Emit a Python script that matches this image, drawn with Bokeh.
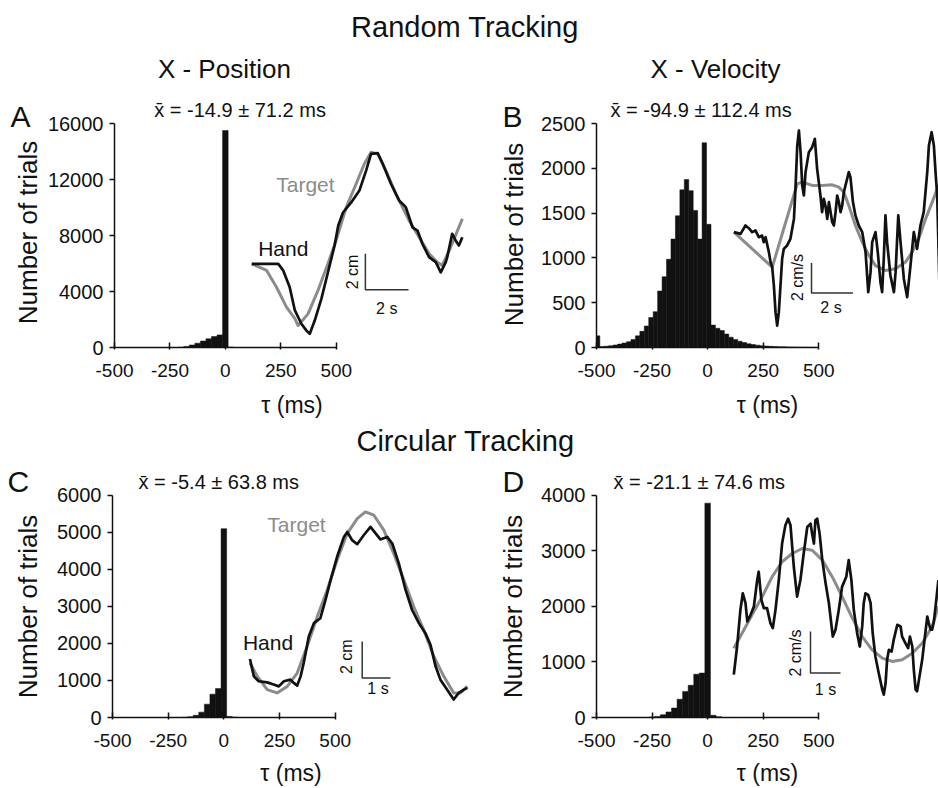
import math
from bokeh.plotting import figure
from bokeh.models import Range1d, LinearAxis, FixedTicker, Label
from bokeh.layouts import column, row
from bokeh.embed import file_html
from bokeh.resources import INLINE

FONT = "Liberation Sans"
INK = "#111111"
GRAY = "#8c8c8c"

# ---------------- data ----------------
tau_ticks = [-500, -250, 0, 250, 500]

# A: random tracking, x-position (25 ms bins)
histA_tau = [-200, -175, -150, -125, -100, -75, -50, -25, 0, 25]
histA_n = [20, 80, 180, 310, 460, 620, 780, 900, 15500, 30]
histA_ticks = [0, 4000, 8000, 12000, 16000]

# B: random tracking, x-velocity (20 ms bins)
histB_tau = [-495, -475, -455, -435, -415, -395, -375, -355, -335, -315,
             -295, -275, -255, -235, -215, -195, -175, -155, -135, -115,
             -95, -75, -55, -35, -15, 5, 25, 45, 65, 85,
             105, 125, 145, 165, 185, 205, 225, 245, 265, 285,
             305, 325, 345, 365, 385, 405, 425, 445, 465, 485]
histB_n = [130, 10, 15, 20, 28, 38, 50, 65, 90, 130,
           180, 240, 335, 400, 630, 790, 985, 1210, 1470, 1760,
           1875, 1750, 1530, 1210, 2285, 1375, 250, 215, 190, 150,
           115, 90, 70, 55, 42, 33, 26, 20, 16, 13,
           10, 8, 7, 6, 5, 4, 3, 3, 2, 2]
histB_ticks = [0, 500, 1000, 1500, 2000, 2500]

# C: circular tracking, position (25 ms bins)
histC_tau = [-175, -150, -125, -100, -75, -50, -25, 0, 25, 50]
histC_n = [5, 20, 60, 145, 360, 630, 780, 5100, 30, 10]
histC_ticks = [0, 1000, 2000, 3000, 4000, 5000, 6000]

# D: circular tracking, velocity (25 ms bins)
histD_tau = [-250, -225, -200, -175, -150, -125, -100, -75, -50, -25, 0, 25, 50]
histD_n = [10, 20, 50, 100, 170, 330, 470, 580, 780, 800, 3860, 40, 15]
histD_ticks = [0, 1000, 2000, 3000, 4000]

mean_A = "x\u0304 = -14.9 \u00b1 71.2 ms"
mean_B = "x\u0304 = -94.9 \u00b1 112.4 ms"
mean_C = "x\u0304 = -5.4 \u00b1 63.8 ms"
mean_D = "x\u0304 = -21.1 \u00b1 74.6 ms"

# inset traces (time in s, position in cm / velocity in cm/s)
handA_t = [0.0, 1.0, 1.23, 1.46, 1.76, 2.0, 2.30, 2.53, 2.69, 2.92,
           3.23, 3.53, 3.84, 4.01, 4.23, 4.61, 4.99, 5.30, 5.53, 5.84,
           6.07, 6.45, 6.83, 7.14, 7.45, 7.68, 7.91, 8.22, 8.53, 8.76,
           8.99, 9.06, 9.29, 9.45, 9.60, 9.76]
handA_cm = [4.26, 4.26, 4.26, 3.89, 2.96, 1.67, 0.93, 0.56, 0.37, 1.11,
            2.33, 3.78, 5.28, 6.39, 7.11, 7.67, 8.33, 9.44, 10.37, 10.41,
            9.82, 8.71, 7.78, 7.41, 6.29, 6.11, 5.37, 4.63, 4.35, 3.79,
            4.35, 4.63, 5.93, 5.56, 5.28, 5.74]
targA_t = [0.0, 0.69, 1.15, 1.61, 2.0, 2.15, 2.61, 3.07, 3.53, 3.92,
           4.38, 4.84, 5.22, 5.53, 5.84, 6.22, 6.68, 7.29, 7.76, 8.22,
           8.60, 8.83, 9.22, 9.76]
targA_cm = [4.26, 3.89, 2.96, 1.85, 1.21, 0.83, 1.48, 2.78, 4.26, 5.6,
            7.4, 8.71, 9.82, 10.46, 10.37, 9.44, 8.15, 6.67, 5.74, 4.82,
            4.35, 4.17, 5.18, 6.76]

handB_t = [0.02, 0.34, 0.58, 0.74, 0.90, 1.06, 1.22, 1.38, 1.46, 1.55,
           1.71, 1.79, 1.87, 1.95, 2.03, 2.11, 2.19, 2.27, 2.35, 2.43,
           2.59, 2.75, 2.92, 3.0, 3.08, 3.16, 3.24, 3.32, 3.40, 3.48,
           3.64, 3.80, 3.93, 4.04, 4.20, 4.28, 4.36, 4.44, 4.53, 4.61,
           4.69, 4.77, 4.85, 4.93, 5.01, 5.09, 5.17, 5.25, 5.33, 5.41,
           5.57, 5.65, 5.77, 5.89, 6.05, 6.22, 6.38, 6.51, 6.62, 6.70,
           6.86, 6.97, 7.10, 7.18, 7.26, 7.34, 7.42, 7.58, 7.75, 7.83,
           7.96, 8.07, 8.23, 8.39, 8.55, 8.71, 8.87, 9.03, 9.19, 9.36,
           9.44, 9.57, 9.68, 9.76, 9.84, 9.95]
handB_v = [4.56, 4.44, 5.0, 4.82, 4.56, 4.67, 4.22, 4.33, 3.89, 4.22,
           3.22, 2.56, 2.22, 1.0, -0.78, -1.67, -0.78, 1.0, 2.78, 3.44,
           3.67, 4.11, 5.44, 7.67, 10.33, 11.33, 9.89, 7.67, 7.0, 8.56,
           9.89, 10.22, 10.78, 8.78, 7.0, 5.89, 6.78, 6.33, 5.44, 6.56,
           5.89, 5.22, 5.0, 5.89, 7.0, 6.56, 5.89, 6.33, 7.22, 7.67,
           8.56, 8.22, 6.56, 5.67, 5.0, 4.56, 3.22, 0.56, 1.89, 3.89,
           4.56, 3.22, 1.22, 0.56, 2.78, 5.67, 3.89, 1.67, 0.56, 1.89,
           5.67, 3.89, 1.44, 0.22, 2.33, 4.56, 3.44, 5.0, 5.89, 8.56,
           10.33, 11.22, 10.33, 8.56, 7.0, 1.0]
targB_t = [0.02, 1.87, 3.08, 3.32, 3.80, 4.28, 4.77, 5.09, 5.33, 5.57,
           5.89, 6.22, 6.54, 6.86, 7.34, 7.83, 8.31, 8.63, 8.95, 9.28,
           9.60, 9.90]
targB_v = [4.56, 2.22, 7.78, 7.89, 7.67, 7.67, 7.71, 7.56, 7.22, 6.33,
           5.0, 3.89, 3.0, 2.33, 2.0, 2.11, 2.56, 3.22, 4.11, 5.44,
           6.56, 7.67]

handC_t = [0.04, 0.18, 0.35, 0.65, 0.88, 1.06, 1.24, 1.47, 1.59, 1.71,
           1.83, 1.94, 2.12, 2.30, 2.53, 2.71, 2.89, 3.12, 3.36, 3.48,
           3.65, 3.83, 4.06, 4.30, 4.48, 4.65, 4.89, 5.07, 5.30, 5.54,
           5.77, 6.01, 6.24, 6.42, 6.60, 6.77, 7.01, 7.24, 7.42, 7.60,
           7.72]
handC_cm = [2.77, 1.82, 1.55, 1.49, 1.37, 1.27, 1.55, 1.64, 1.46, 1.31,
            1.82, 2.55, 4.01, 4.74, 5.01, 6.01, 7.10, 8.38, 9.47, 9.74,
            9.29, 9.07, 9.56, 10.02, 9.66, 9.33, 9.47, 9.11, 8.02, 6.56,
            5.46, 4.74, 4.19, 3.55, 2.37, 1.64, 1.09, 0.55, 0.91, 1.09,
            1.19]
targC_t = [0.04, 0.30, 0.65, 1.0, 1.36, 1.71, 2.06, 2.42, 2.77, 3.12,
           3.48, 3.83, 4.12, 4.42, 4.77, 5.12, 5.48, 5.83, 6.18, 6.54,
           6.89, 7.24, 7.48, 7.72]
targC_cm = [2.55, 1.82, 1.09, 0.91, 1.27, 2.0, 3.46, 5.10, 6.56, 8.20,
            9.66, 10.47, 10.84, 10.66, 9.84, 8.56, 7.10, 5.64, 4.37, 2.91,
            1.82, 0.91, 0.91, 1.27]

handD_t = [0.01, 0.12, 0.23, 0.31, 0.40, 0.46, 0.57, 0.68, 0.79, 0.84,
           0.93, 1.01, 1.12, 1.23, 1.31, 1.40, 1.51, 1.62, 1.73, 1.82,
           1.90, 2.01, 2.12, 2.23, 2.34, 2.46, 2.57, 2.62, 2.68, 2.73,
           2.79, 2.87, 2.96, 3.07, 3.18, 3.31, 3.40, 3.51, 3.62, 3.76,
           3.84, 3.93, 4.01, 4.12, 4.21, 4.29, 4.34, 4.40, 4.49, 4.57,
           4.64, 4.73, 4.84, 4.96, 5.01, 5.07, 5.12, 5.18, 5.27, 5.34,
           5.46, 5.57, 5.62, 5.73, 5.82, 5.88, 5.96, 6.01, 6.07, 6.12,
           6.20, 6.29, 6.38, 6.46, 6.51, 6.57, 6.62, 6.68, 6.76, 6.83]
handD_v = [1.20, 2.56, 4.33, 5.13, 4.65, 3.77, 4.09, 4.49, 5.77, 6.17,
           4.81, 4.41, 4.41, 3.69, 3.45, 4.33, 5.77, 7.53, 8.41, 8.73,
           8.41, 6.41, 4.97, 5.77, 7.05, 8.33, 8.49, 8.01, 7.53, 8.65,
           8.73, 8.01, 6.73, 5.61, 4.65, 3.04, 3.37, 4.33, 5.45, 5.93,
           6.73, 5.77, 4.33, 3.21, 2.56, 3.53, 4.65, 5.13, 5.05, 4.65,
           3.21, 2.08, 1.28, 0.48, 0.24, 0.80, 1.92, 2.40, 2.32, 2.88,
           3.61, 3.53, 3.04, 2.72, 2.48, 3.04, 2.56, 1.44, 0.48, 0.40,
           1.12, 1.92, 3.04, 4.01, 3.69, 3.37, 3.37, 3.77, 4.81, 5.77]
targD_t = [0.01, 0.29, 0.62, 0.96, 1.29, 1.62, 1.96, 2.29, 2.62, 2.96,
           3.29, 3.62, 3.96, 4.29, 4.62, 4.96, 5.29, 5.62, 5.96, 6.29,
           6.62, 6.83]
targD_v = [2.48, 3.21, 4.09, 4.97, 5.93, 6.65, 7.05, 7.29, 7.21, 6.73,
           5.93, 4.97, 3.93, 3.04, 2.40, 2.00, 1.84, 1.92, 2.24, 2.72,
           3.53, 4.49]

# scale bar lengths (s, cm or cm/s)
barA = (2, 2)
barB = (2, 2)
barC = (1, 2)
barD = (1, 2)


# ---------------- helpers ----------------
def add_text(p, x, y, text, size, color=INK, align="center", baseline="middle",
             angle=0.0, xr=None, yr=None):
    kw = {}
    if xr:
        kw["x_range_name"] = xr
    if yr:
        kw["y_range_name"] = yr
    p.add_layout(Label(x=x, y=y, text=text, text_font=FONT, text_font_size=f"{size}px",
                       text_color=color, text_align=align, text_baseline=baseline,
                       angle=angle, **kw))


def strip_fig(ox, oy, w, h, bottom, texts):
    # frame spans page y from oy to oy + h - bottom (aligned with neighbouring panels)
    p = figure(width=w, height=h, output_backend="svg", toolbar_location=None,
               x_axis_type=None, y_axis_type=None,
               x_range=Range1d(ox, ox + w), y_range=Range1d(oy + h - bottom, oy),
               min_border_left=0, min_border_right=0, min_border_top=0,
               min_border_bottom=bottom)
    p.outline_line_color = None
    p.background_fill_color = "white"
    p.border_fill_color = "white"
    for t in texts:
        txt, x, y, size = t[:4]
        opts = t[4] if len(t) > 4 else {}
        add_text(p, x, y, txt, size, **opts)
    return p


def make_panel(spec):
    ox, oy, w, h = spec["fig"]
    fl, fr, ft, fb = spec["frame"]  # axis left, frame right, y-max tick, x-axis (page px)
    ymax = spec["yticks"][-1]
    ytop = ymax * (fb - oy) / (fb - ft)
    p = figure(width=w, height=h, output_backend="svg", toolbar_location=None,
               x_axis_type=None, y_axis_type=None,
               x_range=Range1d(-500, -500 + 1000.0 * (fr - fl) / spec["axpx"]),
               y_range=Range1d(0, ytop),
               min_border_left=fl - ox, min_border_right=ox + w - fr,
               min_border_top=0, min_border_bottom=oy + h - fb)
    p.outline_line_color = None
    p.background_fill_color = "white"
    p.border_fill_color = "white"
    x0, sx, y0, sy = spec["inset"]
    p.extra_x_ranges = {"t": Range1d((fl - x0) / sx, (fr - x0) / sx),
                        "px": Range1d(fl, fr)}
    p.extra_y_ranges = {"v": Range1d((y0 - fb) / sy, (y0 - oy) / sy),
                        "py": Range1d(fb, oy)}

    xa = LinearAxis(bounds=(-500, 500), ticker=FixedTicker(ticks=tau_ticks),
                    axis_label="\u03c4 (ms)",
                    major_label_overrides={v: str(v) for v in tau_ticks})
    ya = LinearAxis(bounds=(0, ymax), ticker=FixedTicker(ticks=spec["yticks"]),
                    major_label_overrides={v: str(v) for v in spec["yticks"]})
    for ax in (xa, ya):
        ax.axis_line_width = 1.5
        ax.axis_line_color = INK
        ax.major_tick_line_width = 1.5
        ax.major_tick_line_color = INK
        ax.minor_tick_line_color = None
        ax.major_label_text_font = FONT
        ax.major_label_text_color = INK
        ax.axis_label_text_font = FONT
        ax.axis_label_text_font_style = "normal"
        ax.axis_label_text_color = INK
    xa.major_tick_in = 5
    xa.major_tick_out = 2
    xa.major_label_text_font_size = "19px"
    xa.major_label_standoff = spec["xst"]
    xa.axis_label_text_font_size = "23px"
    xa.axis_label_standoff = spec["xals"]
    ya.major_tick_in = 0
    ya.major_tick_out = 5
    ya.major_label_text_font_size = "20px"
    ya.major_label_standoff = 6
    p.add_layout(xa, "below")
    p.add_layout(ya, "left")

    p.vbar(x=spec["tau"], top=spec["n"], width=spec["bw"], fill_color=INK,
           line_color=INK, line_width=0.5)

    p.line(spec["targ"][0], spec["targ"][1], x_range_name="t", y_range_name="v",
           line_color=GRAY, line_width=3.0, line_join="round")
    p.line(spec["hand"][0], spec["hand"][1], x_range_name="t", y_range_name="v",
           line_color=INK, line_width=2.7, line_join="round")

    bx, by = spec["barpos"]
    lx, ly = spec["barlen"]
    tb = (bx - x0) / sx
    vb = (y0 - by) / sy
    p.line([tb, tb, tb + lx], [vb + ly, vb, vb], x_range_name="t", y_range_name="v",
           line_color="#333333", line_width=1.5)

    for t in spec["texts"]:
        txt, x, y, size = t[:4]
        opts = dict(t[4]) if len(t) > 4 else {}
        opts.update(xr="px", yr="py")
        add_text(p, x, y, txt, size, **opts)
    return p


ROT = {"angle": math.pi / 2}
LEFT = {"align": "left"}

# strips holding the panel letter and the y-axis title
sA = strip_fig(0, 45, 44, 375, 73, [("A", 10, 116, 30, LEFT),
                                    ("Number of trials", 27.5, 232, 26, ROT)])
sB = strip_fig(469, 45, 66, 375, 73, [("B", 502, 116, 30, LEFT),
                                      ("Number of trials", 513, 234, 26, ROT)])
sC = strip_fig(0, 460, 44, 328, 70, [("C", 7, 481, 30, LEFT),
                                     ("Number of trials", 27.5, 606.5, 26, ROT)])
sD = strip_fig(469, 460, 66, 328, 70, [("D", 502, 481, 30, LEFT),
                                       ("Number of trials", 512.5, 606.5, 26, ROT)])

pA = make_panel(dict(
    fig=(44, 45, 425, 375), frame=(112, 469, 123, 347), axpx=223.0,
    yticks=histA_ticks, tau=histA_tau, n=histA_n, bw=25, xst=14, xals=12,
    inset=(250.0, 21.7, 340.0, 18.0),
    hand=(handA_t, handA_cm), targ=(targA_t, targA_cm),
    barpos=(364.3, 289.3), barlen=barA,
    texts=[("X - Position", 222.5, 68, 26),
           (mean_A, 152, 109, 20, LEFT),
           ("Target", 304, 184, 21, {"color": GRAY}),
           ("Hand", 281.7, 247.5, 21),
           ("2 cm", 351.7, 271.5, 16, ROT),
           ("2 s", 385.8, 307.5, 16)]))

pB = make_panel(dict(
    fig=(535, 45, 403, 375), frame=(596, 938, 123, 347), axpx=222.3,
    yticks=histB_ticks, tau=histB_tau, n=histB_n, bw=20, xst=14, xals=12,
    inset=(733.0, 20.7, 300.0, 15.0),
    hand=(handB_t, handB_v), targ=(targB_t, targB_v),
    barpos=(811.0, 292.5), barlen=barB,
    texts=[("X - Velocity", 715, 68, 26),
           (mean_B, 610, 109, 20, LEFT),
           ("2 cm/s", 796.7, 277, 16, ROT),
           ("2 s", 830.5, 306.7, 16)]))

pC = make_panel(dict(
    fig=(44, 460, 425, 328), frame=(112, 469, 495, 718), axpx=222.7,
    yticks=histC_ticks, tau=histC_tau, n=histC_n, bw=25, xst=14, xals=10,
    inset=(248.3, 28.3, 710.0, 18.3),
    hand=(handC_t, handC_cm), targ=(targC_t, targC_cm),
    barpos=(361.7, 678.3), barlen=barC,
    texts=[(mean_C, 138, 482, 20, LEFT),
           ("Target", 296, 524.5, 21, {"color": GRAY}),
           ("Hand", 267.5, 642.5, 21),
           ("2 cm", 346, 657, 16, ROT),
           ("1 s", 377.5, 689, 16)]))

pD = make_panel(dict(
    fig=(535, 460, 403, 328), frame=(596, 938, 495, 718), axpx=222.3,
    yticks=histD_ticks, tau=histD_tau, n=histD_n, bw=25, xst=14, xals=10,
    inset=(733.0, 30.0, 700.0, 20.8),
    hand=(handD_t, handD_v), targ=(targD_t, targD_v),
    barpos=(810.0, 673.3), barlen=barD,
    texts=[(mean_D, 613, 482, 20, LEFT),
           ("2 cm/s", 795.3, 653.3, 16, ROT),
           ("1 s", 825, 690, 16)]))

t1 = strip_fig(0, 0, 938, 45, 0, [("Random Tracking", 464.5, 26, 29)])
t2 = strip_fig(0, 420, 938, 40, 0, [("Circular Tracking", 465, 440, 29)])

layout = column(t1, row(sA, pA, sB, pB), t2, row(sC, pC, sD, pD))

open("out.html", "w").write(file_html(layout, INLINE))
